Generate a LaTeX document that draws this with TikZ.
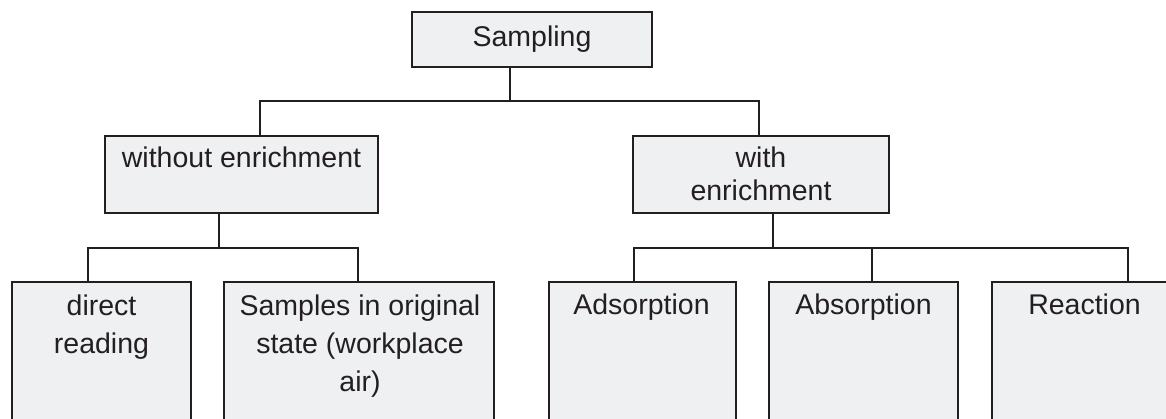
\documentclass[tikz,border=0pt]{standalone}
\usepackage{fontspec}
\setmainfont{Liberation Sans}
\definecolor{ink}{HTML}{231F20}
\definecolor{boxfill}{HTML}{EFF0F2}
\begin{document}
\begin{tikzpicture}[x=1pt,y=-1pt,
  box/.style={draw=ink, fill=boxfill, line width=1.6pt, inner sep=0pt, outer sep=0pt},
  conn/.style={draw=ink, line width=1.6pt},
  lbl/.style={anchor=base, inner sep=0pt, text=ink, font=\fontsize{28.5}{33}\selectfont}]
\useasboundingbox (0,0) rectangle (1166,419);
\clip (0,0) rectangle (1166,419);
\fill[white] (0,0) rectangle (1166,419);
% boxes
\node[box, minimum width=240pt, minimum height=55pt] (samp) at (532,39.5) {};
\node[box, minimum width=273pt, minimum height=77pt] (wo) at (241.5,174.5) {};
\node[box, minimum width=256pt, minimum height=77pt] (wi) at (761,174.5) {};
\node[box, minimum width=179pt, minimum height=170pt] (dr) at (101.5,367) {};
\node[box, minimum width=270pt, minimum height=170pt] (sa) at (359,367) {};
\node[box, minimum width=187pt, minimum height=170pt] (ad) at (642.5,367) {};
\node[box, minimum width=189pt, minimum height=170pt] (ab) at (863.5,367) {};
\node[box, minimum width=186pt, minimum height=170pt] (re) at (1085,367) {};
% labels
\node[lbl] (tsamp) at (532,47) {Sampling};
\node[lbl] (two) at (241.5,168) {without enrichment};
\node[lbl] (twi) at (761,168) {\vtop{\hsize=300pt\parindent=0pt\centering\baselineskip=32.5pt with\par enrichment}};
\node[lbl] (tdr) at (101.5,315.5) {\vtop{\hsize=200pt\parindent=0pt\centering\baselineskip=38pt direct\par reading}};
\node[lbl] (tsa) at (360,315.5) {\vtop{\hsize=300pt\parindent=0pt\centering\baselineskip=38pt Samples in original\par state (workplace\par air)}};
\node[lbl] (tad) at (641.5,315) {Adsorption};
\node[lbl] (tab) at (863.5,315) {Absorption};
\node[lbl] (tre) at (1084.5,315) {Reaction};
% junctions
\coordinate (j0) at (510,101);
\coordinate (j1) at (219,248);
\coordinate (j2) at (773,248);
\coordinate (j3) at (872,248);
% connectors
\draw[conn] (samp.south -| j0) -- (j0);
\draw[conn] (wo.north -| 260,0) |- (j0) -| (wi.north -| 759,0);
\draw[conn] (wo.south -| j1) -- (j1);
\draw[conn] (dr.north -| 88,0) |- (j1) -| (sa.north -| 358,0);
\draw[conn] (wi.south -| j2) -- (j2);
\draw[conn] (ad.north -| 634,0) |- (j2) -| (re.north -| 1128,0);
\draw[conn] (ab.north -| j3) -- (j3);
\end{tikzpicture}
\end{document}
